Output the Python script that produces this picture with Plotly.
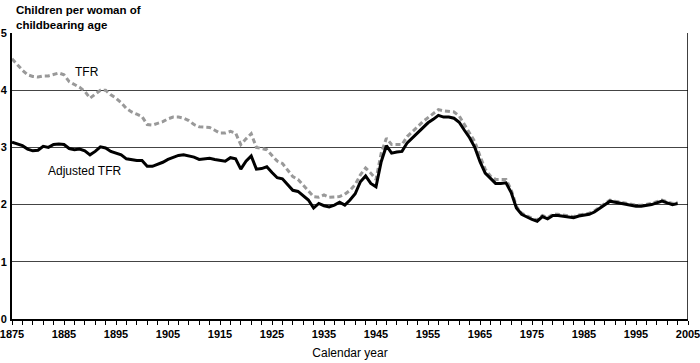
import plotly.graph_objects as go

years = list(range(1875, 2004))

adjusted_tfr = [
    3.09, 3.06, 3.03, 2.97, 2.94, 2.95, 3.02, 3.00, 3.05, 3.06,  # 1875-1884
    3.05, 2.98, 2.96, 2.97, 2.94, 2.87, 2.93, 3.01, 2.99, 2.93,  # 1885-1894
    2.90, 2.87, 2.80, 2.78, 2.77, 2.77, 2.67, 2.67, 2.70, 2.74,  # 1895-1904
    2.79, 2.83, 2.86, 2.87, 2.85, 2.83, 2.79, 2.80, 2.81, 2.79,  # 1905-1914
    2.77, 2.76, 2.82, 2.80, 2.62, 2.76, 2.85, 2.62, 2.63, 2.66,  # 1915-1924
    2.56, 2.47, 2.45, 2.35, 2.25, 2.23, 2.15, 2.08, 1.94, 2.02,  # 1925-1934
    1.98, 1.96, 1.99, 2.04, 1.99, 2.08, 2.19, 2.40, 2.50, 2.37,  # 1935-1944
    2.31, 2.75, 3.03, 2.90, 2.92, 2.93, 3.08, 3.17, 3.26, 3.35,  # 1945-1954
    3.43, 3.49, 3.56, 3.53, 3.53, 3.51, 3.44, 3.30, 3.17, 3.00,  # 1955-1964
    2.75, 2.55, 2.46, 2.37, 2.37, 2.38, 2.21, 1.94, 1.83, 1.78,  # 1965-1974
    1.74, 1.71, 1.79, 1.75, 1.81, 1.81, 1.80, 1.78, 1.77, 1.80,  # 1975-1984
    1.82, 1.83, 1.87, 1.93, 2.00, 2.06, 2.04, 2.02, 2.00, 1.98,  # 1985-1994
    1.97, 1.97, 1.98, 2.00, 2.03, 2.06, 2.03, 2.00, 2.02,        # 1995-2003
]

tfr = [
    4.55, 4.45, 4.35, 4.27, 4.24, 4.23, 4.25, 4.25, 4.28, 4.30,  # 1875-1884
    4.27, 4.15, 4.10, 4.05, 3.98, 3.86, 3.93, 4.00, 4.00, 3.92,  # 1885-1894
    3.86, 3.78, 3.68, 3.62, 3.58, 3.54, 3.40, 3.39, 3.42, 3.45,  # 1895-1904
    3.50, 3.53, 3.53, 3.51, 3.47, 3.40, 3.36, 3.36, 3.35, 3.30,  # 1905-1914
    3.25, 3.25, 3.28, 3.25, 3.05, 3.15, 3.24, 3.00, 2.98, 2.96,  # 1915-1924
    2.86, 2.76, 2.72, 2.60, 2.49, 2.44, 2.34, 2.25, 2.14, 2.13,  # 1925-1934
    2.17, 2.13, 2.13, 2.14, 2.18, 2.25, 2.35, 2.52, 2.64, 2.55,  # 1935-1944
    2.44, 2.90, 3.16, 3.05, 3.05, 3.05, 3.19, 3.27, 3.36, 3.45,  # 1945-1954
    3.52, 3.60, 3.66, 3.64, 3.63, 3.62, 3.55, 3.40, 3.24, 3.10,  # 1955-1964
    2.85, 2.62, 2.50, 2.44, 2.44, 2.44, 2.26, 1.97, 1.85, 1.80,  # 1965-1974
    1.76, 1.73, 1.81, 1.77, 1.83, 1.83, 1.82, 1.80, 1.79, 1.82,  # 1975-1984
    1.84, 1.85, 1.89, 1.95, 2.02, 2.08, 2.06, 2.04, 2.02, 2.00,  # 1985-1994
    1.99, 1.99, 2.00, 2.02, 2.05, 2.08, 2.05, 2.02, 2.04,        # 1995-2003
]

x_tickvals = list(range(1875, 2006, 2))
x_ticktext = [str(v) if (v - 1875) % 10 == 0 else "" for v in x_tickvals]
y_tickvals = [0, 1, 2, 3, 4, 5]

FONT = "Liberation Sans, Arial, sans-serif"

fig = go.Figure()
fig.add_trace(go.Scatter(
    x=years, y=tfr, mode="lines", name="TFR",
    line=dict(color="#999999", width=3, dash="5px,3px"),
))
fig.add_trace(go.Scatter(
    x=years, y=adjusted_tfr, mode="lines", name="Adjusted TFR",
    line=dict(color="#000000", width=3),
))

fig.add_annotation(x=1889.5, y=4.32, text="TFR", showarrow=False,
                   font=dict(family=FONT, size=12, color="#000"))
fig.add_annotation(x=1889, y=2.58, text="Adjusted TFR", showarrow=False,
                   font=dict(family=FONT, size=12, color="#000"))
fig.add_annotation(xref="paper", yref="paper", x=0.003, y=1.0, yshift=0,
                   xanchor="left", yanchor="bottom", align="left",
                   text="Children per woman of<br>childbearing age", showarrow=False,
                   font=dict(family=FONT, size=11.5, color="#000", weight="bold"))

fig.add_shape(type="line", xref="x", yref="y", x0=2005, x1=2005, y0=0, y1=5,
              line=dict(color="#000", width=1.5))

fig.update_layout(
    width=700, height=363,
    margin=dict(l=12, r=12, t=33, b=44),
    paper_bgcolor="white", plot_bgcolor="white",
    showlegend=False,
    font=dict(family=FONT, size=11, color="#000"),
    xaxis=dict(
        range=[1875, 2005], tickvals=x_tickvals, ticktext=x_ticktext,
        ticks="outside", ticklen=4, tickwidth=1, tickcolor="#000",
        showline=True, linewidth=2, linecolor="#000", showgrid=False, zeroline=False,
        automargin=False, ticklabeloverflow="allow",
        tickfont=dict(family=FONT, size=11, weight="bold"),
        title=dict(text="Calendar year", font=dict(family=FONT, size=12), standoff=9),
    ),
    yaxis=dict(
        range=[0, 5], tickvals=y_tickvals, ticks="", showline=True, linewidth=2,
        linecolor="#000", showgrid=True, gridcolor="#444444", gridwidth=1,
        zeroline=False, ticklabelstandoff=1, automargin=False,
        ticklabeloverflow="allow",
        tickfont=dict(family=FONT, size=11, weight="bold"),
    ),
)

fig.write_html(
    "out.html",
    config={"displayModeBar": False},
    post_script="document.body.style.margin='0';document.body.style.overflow='hidden';",
)
